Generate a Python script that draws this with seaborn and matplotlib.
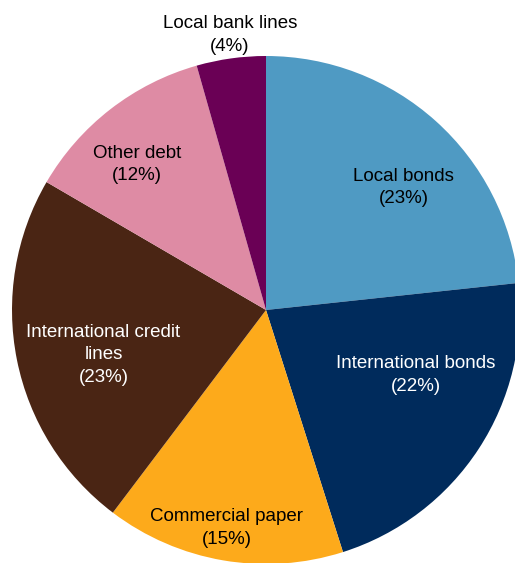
import matplotlib
matplotlib.use("Agg")
import matplotlib.pyplot as plt
import seaborn as sns

categories = ["Local bonds", "International bonds", "Commercial paper",
              "International credit\nlines", "Other debt", "Local bank lines"]
values = [23.3, 21.8, 15.2, 23.1, 12.2, 4.4]
colors = ["#4F9AC3", "#002B5C", "#FDAA1B", "#4A2514", "#DE8BA4", "#6A0055"]
text_colors = ["black", "white", "black", "white", "black", "black"]
# label positions in data units (pie radius = 1)
label_pos = [(0.543, 0.482), (0.591, -0.256), (-0.156, -0.858), (-0.640, -0.177), (-0.508, 0.572), (-0.142, 1.083)]

sns.set_theme(style="white")
plt.rcParams["font.family"] = ["Liberation Sans", "DejaVu Sans"]

fig = plt.figure(figsize=(5.15, 5.63), dpi=100)
cx, cy, r = 266 / 515, 1 - 310 / 563, 254
ax = fig.add_axes([cx - r / 515, cy - r / 563, 2 * r / 515, 2 * r / 563])
wedges, _ = ax.pie(values, colors=colors, startangle=90, counterclock=False,
                   radius=1, wedgeprops=dict(linewidth=0))
ax.set_xlim(-1, 1)
ax.set_ylim(-1, 1)
ax.set_aspect("auto")
ax.axis("off")
for name, v, (x, y), tc in zip(categories, values, label_pos, text_colors):
    ax.text(x, y, f"{name}\n({round(v)}%)", ha="center", va="center",
            fontsize=13.5, color=tc, linespacing=1.42, clip_on=False)

fig.savefig("out.png", dpi=100)
